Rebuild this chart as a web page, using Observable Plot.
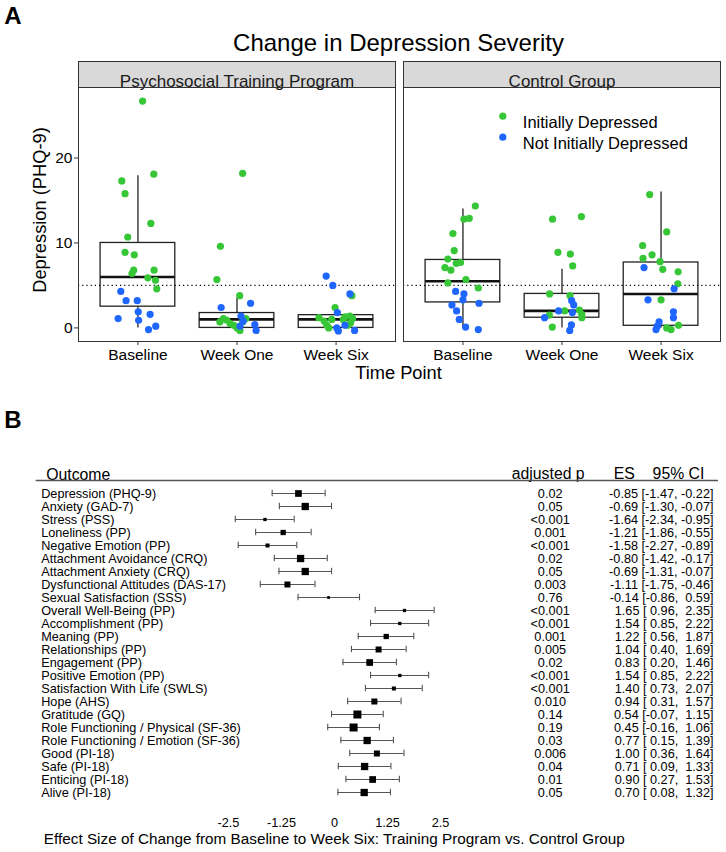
<!DOCTYPE html>
<html><head><meta charset="utf-8">
<script src="https://cdn.jsdelivr.net/npm/d3@7"></script>
<script src="https://cdn.jsdelivr.net/npm/@observablehq/plot@0.6"></script>
<style>
body{margin:0;background:#fff;}
#fig{position:relative;width:726px;height:852px;font-family:"Liberation Sans",Arial,sans-serif;color:#000;overflow:hidden;background:#fff}
.abs{position:absolute;white-space:nowrap;line-height:1}
#fig svg{position:absolute;left:0}
</style></head><body>
<div id="fig"></div>
<script>
// ---------- Panel A data ----------
const timePoints = ["Baseline", "Week One", "Week Six"];
const groups = ["Psychosocial Training Program", "Control Group"];
const statusLabels = ["Initially Depressed", "Not Initially Depressed"];
const statusColors = ["#36c636", "#1f66ff"];

// [horizontal jitter (fraction of category step), PHQ-9 score]
const trainingBaselineDep = [[0.047,26.7],[-0.163,17.3],[0.16,18.1],[-0.13,15.8],[0.13,12.3],[-0.103,10.7],[-0.13,8.9],[-0.037,8.6],[-0.043,6.8],[-0.06,6.4],[0.163,6.8],[0.1,5.9],[0.177,5.6],[0.19,4.6]];
const trainingBaselineNot = [[-0.173,4.3],[-0.12,3.2],[-0.007,3.2],[0.003,1.9],[-0.2,1.1],[0.123,1.6],[0.007,0.9],[0.107,-0.2],[0.18,0.2]];
const trainingWeekOneDep = [[0.057,18.2],[-0.167,9.6],[-0.203,5.7],[0.027,3.8],[-0.173,0.7],[-0.137,1.1],[-0.103,0.9],[-0.07,0.5],[-0.033,0.3],[0,0.0],[0.03,-0.3],[0.09,1.1],[0.057,0.7]];
const trainingWeekOneNot = [[-0.16,2.4],[0.137,2.9],[0.04,1.4],[0.063,0.8],[0.03,0.2],[0.18,0.4],[0.193,-0.3]];
const trainingWeekSixDep = [[0.16,3.8],[-0.01,2.4],[-0.173,1.2],[-0.12,0.8],[-0.093,0.3],[-0.043,1.0],[0.093,1.3],[0.14,1.4],[0.167,1.1],[0.12,0.3],[0.147,0.6],[-0.073,0.0],[0.073,1.0]];
const trainingWeekSixNot = [[-0.1,6.1],[-0.033,5.0],[0.14,4.0],[0.013,1.8],[0.007,0.0],[0.023,-0.35],[0.09,0.3],[0.187,-0.3]];
const controlBaselineDep = [[0.125,14.35],[0.01,12.8],[0.064,12.9],[-0.101,11.1],[-0.088,9.1],[-0.152,8.1],[-0.068,7.6],[-0.024,7.7],[-0.182,7.1],[-0.122,6.8],[0.03,5.7],[-0.152,5.3],[0.155,4.7]];
const controlBaselineNot = [[-0.074,4.3],[0.01,4.0],[0,3.3],[-0.111,2.7],[0.162,2.9],[-0.064,2.0],[-0.037,1.0],[0.027,0.1],[0.155,-0.2]];
const controlWeekOneDep = [[-0.095,12.8],[0.196,13.1],[-0.041,8.9],[0.084,8.7],[0.108,7.3],[-0.125,4.0],[0.081,3.8],[0.027,2.0],[0.176,2.1],[0.2,1.6],[0.2,1.2],[-0.128,1.5],[-0.098,0.1]];
const controlWeekOneNot = [[0.098,3.2],[0.118,2.7],[-0.034,2.0],[0.105,1.8],[-0.176,1.2],[0.095,0.35],[0.078,-0.3]];
const controlWeekSixDep = [[-0.115,15.7],[0.057,11.3],[-0.186,9.7],[-0.091,8.6],[-0.182,8.2],[-0.01,7.8],[0.017,6.9],[0.172,6.6],[0.169,5.2],[0,3.3],[0.176,0.3],[0.057,0.0],[0.101,-0.2]];
const controlWeekSixNot = [[-0.172,7.1],[0.132,4.6],[-0.132,3.3],[0.125,1.9],[0.125,1.2],[-0.02,0.7],[-0.037,0.2],[-0.051,-0.2]];

// box statistics, order: training (Baseline, Week One, Week Six), control (Baseline, Week One, Week Six)
const boxLower  = [0, 0, 0, 0, 0, 0];
const boxQ1     = [2.5, 0, 0, 3.0, 1.2, 0.25];
const boxMedian = [6.0, 1.0, 1.0, 5.5, 2.0, 4.0];
const boxQ3     = [10.0, 1.75, 1.5, 8.0, 4.0, 7.7];
const boxUpper  = [17.9, 3.5, 2.4, 14.0, 6.9, 16.0];
const yTicks = [0, 10, 20];
const cutoff = 5;

// ---------- Panel B data ----------
const outcomes = ["Depression (PHQ-9)","Anxiety (GAD-7)","Stress (PSS)","Loneliness (PP)","Negative Emotion (PP)","Attachment Avoidance (CRQ)","Attachment Anxiety (CRQ)","Dysfunctional Attitudes (DAS-17)","Sexual Satisfaction (SSS)","Overall Well-Being (PP)","Accomplishment (PP)","Meaning (PP)","Relationships (PP)","Engagement (PP)","Positive Emotion (PP)","Satisfaction With Life (SWLS)","Hope (AHS)","Gratitude (GQ)","Role Functioning / Physical (SF-36)","Role Functioning / Emotion (SF-36)","Good (PI-18)","Safe (PI-18)","Enticing (PI-18)","Alive (PI-18)"];
const adjustedP = ["0.02","0.05","<0.001","0.001","<0.001","0.02","0.05","0.003","0.76","<0.001","<0.001","0.001","0.005","0.02","<0.001","<0.001","0.010","0.14","0.19","0.03","0.006","0.04","0.01","0.05"];
const effectSize = [-0.85,-0.69,-1.64,-1.21,-1.58,-0.80,-0.69,-1.11,-0.14,1.65,1.54,1.22,1.04,0.83,1.54,1.40,0.94,0.54,0.45,0.77,1.00,0.71,0.90,0.70];
const ciLow = [-1.47,-1.30,-2.34,-1.86,-2.27,-1.42,-1.31,-1.75,-0.86,0.96,0.85,0.56,0.40,0.20,0.85,0.73,0.31,-0.07,-0.16,0.15,0.36,0.09,0.27,0.08];
const ciHigh = [-0.22,-0.07,-0.95,-0.55,-0.89,-0.17,-0.07,-0.46,0.59,2.35,2.22,1.87,1.69,1.46,2.22,2.07,1.57,1.15,1.06,1.39,1.64,1.33,1.53,1.32];
const boxWeight = [6.7,7.3,3.3,5.3,4.0,7.3,7.3,6.0,2.7,3.3,3.3,5.3,6.0,6.7,3.3,4.0,6.0,8.0,8.0,7.3,6.0,7.3,6.7,7.3];
const esTicks = [-2.5, -1.25, 0, 1.25, 2.5];

// ---------- build tables ----------
const pointCells = [
  [0,0,0,trainingBaselineDep],[0,0,1,trainingBaselineNot],
  [0,1,0,trainingWeekOneDep],[0,1,1,trainingWeekOneNot],
  [0,2,0,trainingWeekSixDep],[0,2,1,trainingWeekSixNot],
  [1,0,0,controlBaselineDep],[1,0,1,controlBaselineNot],
  [1,1,0,controlWeekOneDep],[1,1,1,controlWeekOneNot],
  [1,2,0,controlWeekSixDep],[1,2,1,controlWeekSixNot]
];
const points = pointCells.flatMap(([g,t,s,arr]) => arr.map(([j,v]) => ({group: groups[g], xpos: t + j, score: v, status: statusLabels[s]})));
const boxes = boxLower.map((_, i) => ({group: groups[Math.floor(i/3)], t: i % 3, lo: boxLower[i], q1: boxQ1[i], med: boxMedian[i], q3: boxQ3[i], hi: boxUpper[i]}));

const font = '"Liberation Sans", Arial, sans-serif';
const fig = document.getElementById("fig");
function label(text, x, y, size, bold, rotate) {
  const d = document.createElement("div");
  d.className = "abs"; d.textContent = text;
  d.style.left = x + "px"; d.style.top = y + "px"; d.style.fontSize = size + "px";
  d.style.transform = "translate(-50%,-50%)" + (rotate ? " rotate(-90deg)" : "");
  if (bold) d.style.fontWeight = "bold";
  fig.appendChild(d);
}

const panelH = 254;
const chartA = Plot.plot({
  width: 726, height: 385, marginLeft: 77, marginRight: 6, marginTop: 87, marginBottom: 44,
  style: {fontFamily: font, fontSize: "15px", color: "#000", background: "transparent", overflow: "visible"},
  fx: {domain: groups, paddingInner: 0.0261, paddingOuter: 0, axis: null, label: null},
  x: {domain: [-0.6, 2.6], axis: null},
  y: {domain: [-1.6, 28.3], axis: null},
  color: {domain: statusLabels, range: statusColors},
  marks: [
    Plot.frame({fill: "#d9d9d9", stroke: "#333", strokeWidth: 1, insetTop: -26, insetBottom: panelH}),
    Plot.text(groups, {fx: d => d, text: d => d, frameAnchor: "top", dy: -13, fontSize: 17, fill: "#1a1a1a"}),
    Plot.axisX({ticks: [0,1,2], tickFormat: i => timePoints[i], tickSize: 4, tickPadding: 3, fontSize: 15.5, label: null, stroke: "#333"}),
    Plot.axisY({ticks: yTicks, tickSize: 4, tickPadding: 2, fontSize: 15.5, label: null, stroke: "#333"}),
    Plot.ruleX(boxes, {fx: "group", x: "t", y1: "lo", y2: "hi", stroke: "#222", strokeWidth: 1.3}),
    Plot.rect(boxes, {fx: "group", x1: d => d.t - 0.377, x2: d => d.t + 0.377, y1: "q1", y2: "q3", fill: "white", stroke: "#222", strokeWidth: 1.3}),
    Plot.ruleY(boxes, {fx: "group", x1: d => d.t - 0.377, x2: d => d.t + 0.377, y: "med", stroke: "#111", strokeWidth: 2.6}),
    Plot.ruleY([cutoff], {stroke: "#000", strokeWidth: 1.2, strokeDasharray: "1.2,3"}),
    Plot.dot(points, {fx: "group", x: "xpos", y: "score", fill: "status", r: 3.6}),
    ...statusLabels.map((s, i) => Plot.dot([s], {fx: () => groups[1], fill: d => d, r: 3.6, frameAnchor: "top-left", dx: 99.3, dy: 28.7 + 21 * i})),
    ...statusLabels.map((s, i) => Plot.text([s], {fx: () => groups[1], text: d => d, frameAnchor: "top-left", dx: 119.3, dy: 29 + 21 * i, textAnchor: "start", fontSize: 16.5, fill: "#000"})),
    Plot.frame({stroke: "#333", strokeWidth: 1})
  ]
});
chartA.style.top = "0px";
fig.appendChild(chartA);

label("A", 13, 16, 24, true);
label("Change in Depression Severity", 398.5, 43, 24);
label("Depression (PHQ-9)", 40, 210, 18.3, false, true);
label("Time Point", 398.5, 373, 18.3);
label("B", 13, 420, 24, true);

// ---------- Panel B ----------
const pad = v => (v < 0 ? v.toFixed(2) : "\u00A0" + v.toFixed(2));
const rows = outcomes.map((o, i) => ({outcome: o, p: adjustedP[i], es: effectSize[i], lo: ciLow[i], hi: ciHigh[i], w: boxWeight[i],
  txt: pad(effectSize[i]) + " [" + pad(ciLow[i]) + ",\u00A0" + pad(ciHigh[i]) + "]"}));
const topB = 440;
const chartB = Plot.plot({
  width: 726, height: 412, margin: 0,
  style: {fontFamily: font, fontSize: "12.7px", color: "#000", background: "transparent", overflow: "visible"},
  x: {domain: [-2.5, 2.5], range: [228, 440], axis: null},
  y: {type: "point", domain: outcomes, range: [492 - topB, 792 - topB], padding: 0, axis: null},
  r: {type: "linear", domain: [0, 10], range: [0, 10 / 1.772]},
  marks: [
    Plot.text(["Outcome"], {frameAnchor: "top-left", dx: 45.7, dy: 28, textAnchor: "start", fontSize: 15.8}),
    Plot.text(["adjusted p"], {frameAnchor: "top-left", dx: 547.7, dy: 27, textAnchor: "middle", fontSize: 15.8}),
    Plot.text(["ES"], {frameAnchor: "top-left", dx: 623.7, dy: 27, textAnchor: "middle", fontSize: 15.8}),
    Plot.text(["95% CI"], {frameAnchor: "top-left", dx: 678, dy: 27, textAnchor: "middle", fontSize: 15.8}),
    Plot.ruleY([outcomes[0]], {dy: -13, insetLeft: 35.7, insetRight: 8, stroke: "#555", strokeWidth: 1.3}),
    Plot.ruleX([0], {y1: outcomes[0], y2: outcomes[outcomes.length - 1], insetTop: -10, insetBottom: -23, stroke: "#888", strokeDasharray: "1.2,1.8"}),
    Plot.text(rows, {y: "outcome", text: "outcome", frameAnchor: "left", dx: 40.7, textAnchor: "start"}),
    Plot.ruleY(rows, {y: "outcome", x1: "lo", x2: "hi", stroke: "#555", strokeWidth: 1.1}),
    Plot.ruleX(rows, {y1: "outcome", y2: "outcome", x: "lo", stroke: "#555", strokeWidth: 1.1, insetTop: -3.2, insetBottom: -3.2}),
    Plot.ruleX(rows, {y1: "outcome", y2: "outcome", x: "hi", stroke: "#555", strokeWidth: 1.1, insetTop: -3.2, insetBottom: -3.2}),
    Plot.dot(rows, {y: "outcome", x: "es", r: "w", symbol: "square", fill: "#000", stroke: "none"}),
    Plot.text(rows, {y: "outcome", text: "p", frameAnchor: "left", dx: 549.7, textAnchor: "middle"}),
    Plot.text(rows, {y: "outcome", text: "txt", frameAnchor: "left", dx: 713, textAnchor: "end"}),
    Plot.text(esTicks, {x: d => d, text: d => String(d), frameAnchor: "bottom", dy: -25.5, fontSize: 12.7}),
    Plot.text(["Effect Size of Change from Baseline to Week Six: Training Program vs. Control Group"], {frameAnchor: "bottom-left", dx: 43.3, dy: -8.6, textAnchor: "start", fontSize: 15.3})
  ]
});
chartB.style.top = topB + "px";
fig.appendChild(chartB);
</script></body></html>
